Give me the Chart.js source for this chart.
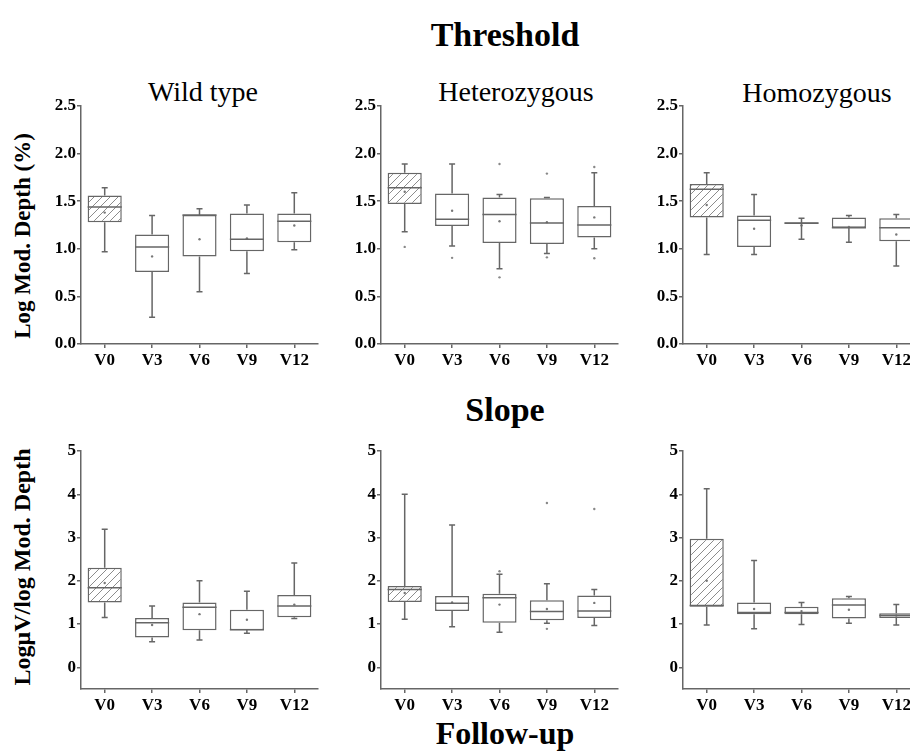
<!DOCTYPE html>
<html>
<head>
<meta charset="utf-8">
<script src="https://cdn.jsdelivr.net/npm/chart.js@4.4.1/dist/chart.umd.min.js"></script>
<style>
  html, body { margin: 0; padding: 0; background: #fff; }
  body { width: 910px; height: 755px; position: relative; overflow: hidden; font-family: "Liberation Serif", "Times New Roman", serif; color: #000; }
  .box { position: absolute; }
  .txt { position: absolute; transform: translate(-50%, -50%); white-space: nowrap; line-height: 1; }
  .big { font-size: 34px; font-weight: bold; }
  .sub { font-size: 28px; }
  .ytitle { font-size: 23px; font-weight: bold; transform: translate(-50%, -50%) rotate(-90deg); }
</style>
</head>
<body>

<div class="txt big" style="left:505px; top:35px;">Threshold</div>
<div class="txt sub" style="left:203px; top:92px;">Wild type</div>
<div class="txt sub" style="left:516px; top:92px;">Heterozygous</div>
<div class="txt sub" style="left:817px; top:93px;">Homozygous</div>
<div class="txt big" style="left:505px; top:410px;">Slope</div>
<div class="txt big" style="left:505px; top:733px; font-size:32px;">Follow-up</div>
<div class="txt ytitle" style="left:22px; top:236px;">Log Mod. Depth (%)</div>
<div class="txt ytitle" style="left:22px; top:567px; font-size:24px;">LogμV/log Mod. Depth</div>

<div class="box" id="w1"><canvas id="c1"></canvas></div>
<div class="box" id="w2"><canvas id="c2"></canvas></div>
<div class="box" id="w3"><canvas id="c3"></canvas></div>
<div class="box" id="w4"><canvas id="c4"></canvas></div>
<div class="box" id="w5"><canvas id="c5"></canvas></div>
<div class="box" id="w6"><canvas id="c6"></canvas></div>

<script>
// visits on the x axis
const visits = ['V0', 'V3', 'V6', 'V9', 'V12'];

// each row: [min, q1, median, q3, max] per visit
// Threshold
const thrWild = [
	[0.97, 1.28, 1.44, 1.56, 1.64],
	[0.28, 0.755, 1.02, 1.15, 1.35],
	[0.55, 0.92, 1.355, 1.355, 1.42],
	[0.74, 0.975, 1.10, 1.37, 1.46],
	[0.99, 1.07, 1.29, 1.37, 1.59],
];
const thrWildMean = [1.38, 0.92, 1.10, 1.11, 1.245];
const thrWildOut = [];

const thrHet = [
	[1.18, 1.47, 1.64, 1.80, 1.89],
	[1.03, 1.24, 1.31, 1.58, 1.89],
	[0.79, 1.06, 1.36, 1.54, 1.57],
	[0.95, 1.05, 1.27, 1.53, 1.54],
	[1.00, 1.12, 1.25, 1.45, 1.80],
];
const thrHetMean = [1.60, 1.40, 1.29, 1.28, 1.33];
const thrHetOut = [['V0', 1.02], ['V3', 0.905], ['V6', 1.89], ['V6', 0.70], ['V9', 1.79], ['V9', 0.91], ['V12', 1.86], ['V12', 0.90]];

const thrHom = [
	[0.94, 1.33, 1.625, 1.68, 1.80],
	[0.94, 1.02, 1.30, 1.35, 1.57],
	[1.10, 1.26, 1.27, 1.275, 1.32],
	[1.07, 1.22, 1.22, 1.33, 1.35],
	[0.82, 1.08, 1.22, 1.32, 1.36],
];
const thrHomMean = [1.46, 1.21, 1.245, 1.23, 1.15];
const thrHomOut = [];

// Slope
const slpWild = [
	[1.15, 1.50, 1.84, 2.30, 3.19],
	[0.59, 0.69, 1.03, 1.14, 1.42],
	[0.63, 0.86, 1.39, 1.50, 2.00],
	[0.79, 0.86, 0.87, 1.33, 1.76],
	[1.13, 1.16, 1.42, 1.67, 2.41],
];
const slpWildMean = [1.95, 0.98, 1.23, 1.10, 1.45];
const slpWildOut = [];

const slpHet = [
	[1.11, 1.51, 1.80, 1.88, 4.00],
	[0.94, 1.30, 1.48, 1.65, 3.29],
	[0.81, 1.03, 1.61, 1.70, 2.15],
	[1.02, 1.09, 1.29, 1.55, 1.93],
	[0.97, 1.14, 1.30, 1.66, 1.80],
];
const slpHetMean = [1.72, 1.50, 1.45, 1.35, 1.49];
const slpHetOut = [['V6', 2.22], ['V9', 3.80], ['V9', 0.89], ['V12', 3.66]];

const slpHom = [
	[0.98, 1.40, 1.43, 2.97, 4.13],
	[0.89, 1.23, 1.27, 1.50, 2.47],
	[0.99, 1.23, 1.27, 1.40, 1.50],
	[1.02, 1.13, 1.44, 1.60, 1.64],
	[0.98, 1.14, 1.20, 1.25, 1.45],
];
const slpHomMean = [2.0, 1.35, 1.30, 1.33, 1.20];
const slpHomOut = [];

const thrTicks = [0, 0.5, 1.0, 1.5, 2.0, 2.5];
const slpTicks = [0, 1, 2, 3, 4, 5];

// layout
const Y_W = 44, PAD_T = 12, PAD_R = 8, X_H = 30;
const plotW = 237, plotH = 238;
const colLeft = [81, 381, 683];
const rowTop = [106, 451];

const lineCol = '#666';
const fontFam = '"Liberation Serif", "Times New Roman", serif';

function hatch() {
	const c = document.createElement('canvas');
	c.width = 8; c.height = 8;
	const g = c.getContext('2d');
	g.fillStyle = '#fff';
	g.fillRect(0, 0, 8, 8);
	g.strokeStyle = '#8c8c8c';
	g.lineWidth = 1;
	g.beginPath();
	g.moveTo(0, 8); g.lineTo(8, 0);
	g.moveTo(-2, 2); g.lineTo(2, -2);
	g.moveTo(6, 10); g.lineTo(10, 6);
	g.stroke();
	return g.createPattern(c, 'repeat');
}

// whiskers + medians, through the chart scales
const whiskers = {
	id: 'whiskers',
	afterDatasetsDraw(chart) {
		const ds = chart.data.datasets[0];
		const rows = ds.stats;
		const meta = chart.getDatasetMeta(0);
		const xs = chart.scales.x, ys = chart.scales.y;
		const g = chart.ctx;
		g.save();
		g.strokeStyle = lineCol;
		g.lineWidth = 1.5;
		rows.forEach((r, i) => {
			const x = xs.getPixelForValue(i);
			const half = meta.data[i].width / 2;
			const pMin = ys.getPixelForValue(r[0]);
			const pQ1 = ys.getPixelForValue(r[1]);
			const pMed = ys.getPixelForValue(r[2]);
			const pQ3 = ys.getPixelForValue(r[3]);
			const pMax = ys.getPixelForValue(r[4]);
			g.beginPath();
			g.moveTo(x, pQ3); g.lineTo(x, pMax);
			g.moveTo(x - 3, pMax); g.lineTo(x + 3, pMax);
			g.moveTo(x, pQ1); g.lineTo(x, pMin);
			g.moveTo(x - 3, pMin); g.lineTo(x + 3, pMin);
			g.moveTo(x - half, pMed); g.lineTo(x + half, pMed);
			g.stroke();
		});
		g.restore();
	}
};

function makePanel(id, wrap, col, row, rows, means, outs, ticks, yMin, yMax, fmt) {
	const w = document.getElementById(wrap);
	w.style.left = (colLeft[col] - Y_W) + 'px';
	w.style.top = (rowTop[row] - PAD_T) + 'px';
	w.style.width = (Y_W + plotW + PAD_R) + 'px';
	w.style.height = (PAD_T + plotH + X_H) + 'px';

	const fills = visits.map((v, i) => i == 0 ? hatch() : '#fff');
	const tickFont = { family: fontFam, size: 17, weight: 'bold' };

	return new Chart(document.getElementById(id), {
		type: 'bar',
		data: {
			labels: visits,
			datasets: [
				{
					type: 'bar',
					data: rows.map(r => [r[1], r[3]]),
					stats: rows,
					backgroundColor: fills,
					borderColor: lineCol,
					borderWidth: 1.5,
					borderSkipped: false,
					barPercentage: 0.72,
					categoryPercentage: 1,
					order: 2,
				},
				{
					type: 'line',
					data: means,
					showLine: false,
					pointRadius: 1.2,
					pointBorderWidth: 0,
					pointBackgroundColor: '#777',
					order: 1,
				},
				{
					type: 'scatter',
					data: outs.map(o => ({ x: o[0], y: o[1] })),
					pointRadius: 1.2,
					pointBorderWidth: 0,
					pointBackgroundColor: '#888',
					order: 1,
				},
			],
		},
		options: {
			responsive: true,
			maintainAspectRatio: false,
			animation: false,
			layout: { padding: { top: PAD_T, right: PAD_R, left: 0, bottom: 0 } },
			plugins: { legend: { display: false }, tooltip: { enabled: false } },
			scales: {
				x: {
					type: 'category',
					offset: true,
					grid: { display: true, drawOnChartArea: false, offset: false, tickLength: 4, color: lineCol, lineWidth: 1.5 },
					border: { display: true, color: lineCol, width: 1.5 },
					ticks: { color: '#000', font: tickFont, padding: 2, maxRotation: 0, autoSkip: false },
					afterFit: s => { s.height = X_H; },
				},
				y: {
					min: yMin,
					max: yMax,
					grid: { display: true, drawOnChartArea: false, tickLength: 4, color: lineCol, lineWidth: 1.5 },
					border: { display: true, color: lineCol, width: 1.5 },
					ticks: { color: '#000', font: tickFont, padding: 1, callback: v => fmt(v) },
					afterBuildTicks: s => { s.ticks = ticks.map(v => ({ value: v })); },
					afterFit: s => { s.width = Y_W; },
				},
			},
		},
		plugins: [whiskers],
	});
}

const f1 = v => Number(v).toFixed(1);
const f0 = v => String(v);

makePanel('c1', 'w1', 0, 0, thrWild, thrWildMean, thrWildOut, thrTicks, 0, 2.5, f1);
makePanel('c2', 'w2', 1, 0, thrHet, thrHetMean, thrHetOut, thrTicks, 0, 2.5, f1);
makePanel('c3', 'w3', 2, 0, thrHom, thrHomMean, thrHomOut, thrTicks, 0, 2.5, f1);
makePanel('c4', 'w4', 0, 1, slpWild, slpWildMean, slpWildOut, slpTicks, -0.5, 5, f0);
makePanel('c5', 'w5', 1, 1, slpHet, slpHetMean, slpHetOut, slpTicks, -0.5, 5, f0);
makePanel('c6', 'w6', 2, 1, slpHom, slpHomMean, slpHomOut, slpTicks, -0.5, 5, f0);
</script>
</body>
</html>
